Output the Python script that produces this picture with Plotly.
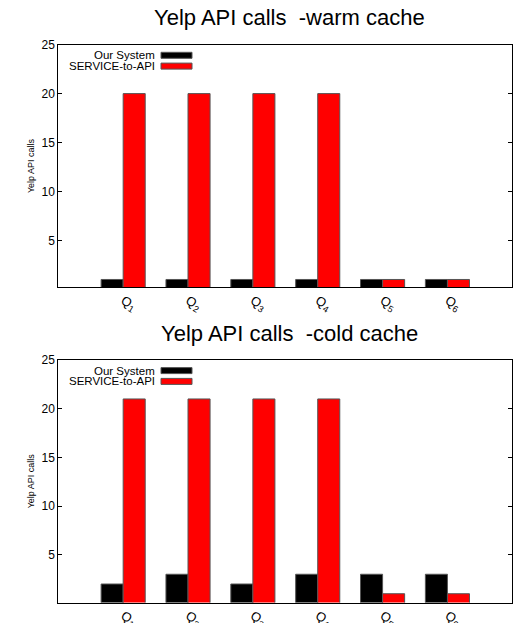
import plotly.graph_objects as go

queries = ["Q<sub>1</sub>", "Q<sub>2</sub>", "Q<sub>3</sub>", "Q<sub>4</sub>", "Q<sub>5</sub>", "Q<sub>6</sub>"]
positions = [1, 2, 3, 4, 5, 6]
warm_our = [1, 1, 1, 1, 1, 1]
warm_service = [20, 20, 20, 20, 1, 1]
cold_our = [2, 3, 2, 3, 3, 3]
cold_service = [21, 21, 21, 21, 1, 1]
series_names = ["Our System", "SERVICE-to-API"]
series_colors = ["#000000", "#ff0000"]
titles = ["Yelp API calls  -warm cache", "Yelp API calls  -cold cache"]
yticks = [5, 10, 15, 20, 25]

W, H = 516, 623
fig = go.Figure()

BW = 0.34
panels = [(warm_our, warm_service, "x", "y"), (cold_our, cold_service, "x2", "y2")]
for ours, serv, xa, ya in panels:
    for vals, name, col, off in [(ours, series_names[0], series_colors[0], -BW), (serv, series_names[1], series_colors[1], 0)]:
        fig.add_trace(go.Bar(x=positions, y=vals, name=name, width=BW, offset=off,
                             marker=dict(color=col, line=dict(color="#555555", width=1)),
                             xaxis=xa, yaxis=ya, showlegend=False, hoverinfo="skip"))

def px(xp):
    return xp / W
def py(yp):
    return 1 - yp / H

font = dict(family="Liberation Sans, Arial, sans-serif", color="black")
xdom = [px(58.3), px(512.3)]
doms = [[py(287.3), py(44.7)], [py(602.5), py(360)]]
ranges = [[0.2, 25], [0.1, 25]]

common_x = dict(range=[0, 7], tickvals=positions, ticktext=queries, tickangle=30,
                showline=True, linecolor="black", linewidth=1, mirror=True, ticks="",
                showgrid=False, zeroline=False, tickfont=dict(size=13, **font), domain=xdom,
                automargin=False)
common_y = dict(tickvals=yticks, showline=True, linecolor="black", linewidth=1, mirror="ticks",
                ticks="inside", ticklen=4, tickcolor="black", showgrid=False, zeroline=False,
                tickfont=dict(size=12, **font), automargin=False,
                title=dict(text="Yelp API calls", font=dict(size=9, **font), standoff=5))

fig.update_layout(
    width=W, height=H, margin=dict(l=0, r=0, t=0, b=0), autosize=False,
    plot_bgcolor="white", paper_bgcolor="white", showlegend=False,
    xaxis=dict(anchor="y", **common_x),
    yaxis=dict(anchor="x", domain=doms[0], range=ranges[0], **common_y),
    xaxis2=dict(anchor="y2", **common_x),
    yaxis2=dict(anchor="x2", domain=doms[1], range=ranges[1], **common_y),
    font=font,
)

annotations = []
shapes = []
title_y = [17, 333]
for i in range(2):
    annotations.append(dict(text=titles[i], x=px(289), y=py(title_y[i]), xref="paper", yref="paper",
                            showarrow=False, font=dict(size=22, **font), xanchor="center", yanchor="middle"))
    base = 44.7 if i == 0 else 360
    for j in range(2):
        yc = base + 10.6 + j * 10.8
        annotations.append(dict(text=series_names[j], x=px(155.5), y=py(yc), xref="paper", yref="paper",
                                showarrow=False, font=dict(size=11.5, **font), xanchor="right", yanchor="middle",
                                borderpad=0))
        shapes.append(dict(type="rect", xref="paper", yref="paper", x0=px(161), x1=px(192),
                           y0=py(yc - 3), y1=py(yc + 3), fillcolor=series_colors[j],
                           line=dict(color="#555555", width=1)))

fig.update_layout(annotations=annotations, shapes=shapes)
fig.write_html("out.html", config={"displayModeBar": False},
               post_script="document.body.style.margin='0px';document.body.style.overflow='hidden';")
